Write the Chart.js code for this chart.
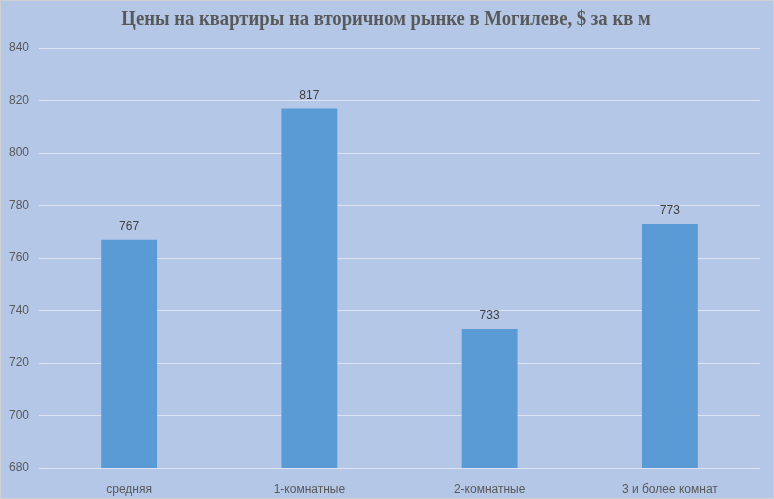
<!DOCTYPE html>
<html>
<head>
<meta charset="utf-8">
<script src="https://cdn.jsdelivr.net/npm/chart.js@4"></script>
<style>
  html, body { margin: 0; padding: 0; background: #ffffff; }
  #wrap { width: 772px; height: 497px; border: 1px solid #d0d0d0; background: #b4c7e7; }
</style>
</head>
<body>
<div id="wrap"><canvas id="chart" width="772" height="497"></canvas></div>
<script>
const categories = ['средняя', '1-комнатные', '2-комнатные', '3 и более комнат'];
const prices = [767, 817, 733, 773];
const titleText = 'Цены на квартиры на вторичном рынке в Могилеве, $ за кв м';

// draws the title and the value labels over the bars
const labelsPlugin = {
    id: 'labels',
    afterDatasetsDraw(chart) {
        const ctx = chart.ctx;
        ctx.save();
        ctx.fillStyle = '#404040';
        ctx.font = '12px "Liberation Sans", Arial, sans-serif';
        ctx.textAlign = 'center';
        ctx.textBaseline = 'bottom';
        chart.getDatasetMeta(0).data.forEach((bar, i) => {
            ctx.fillText(prices[i], bar.x, bar.y - 7);
        });
        ctx.fillStyle = '#595959';
        ctx.font = 'bold 21px "Liberation Serif", "Times New Roman", serif';
        ctx.textBaseline = 'middle';
        ctx.save();
        ctx.translate(385, 19);
        ctx.scale(0.89, 1);
        ctx.fillText(titleText, 0, 0);
        ctx.restore();
        ctx.restore();
    }
};

new Chart(document.getElementById('chart'), {
    type: 'bar',
    data: {
        labels: categories,
        datasets: [{
            data: prices,
            backgroundColor: '#5b9bd5',
            categoryPercentage: 1,
            barPercentage: 0.31
        }]
    },
    options: {
        responsive: false,
        animation: false,
        layout: { padding: { top: 47, right: 13, bottom: 0, left: 0 } },
        plugins: { legend: { display: false }, tooltip: { enabled: false } },
        scales: {
            x: {
                grid: { display: false },
                border: { display: false },
                ticks: { color: '#595959', font: { size: 12, family: '"Liberation Sans", Arial, sans-serif' }, padding: 6 },
                afterFit: s => { s.height = 30; }
            },
            y: {
                min: 680,
                max: 840,
                ticks: { stepSize: 20, color: '#595959', font: { size: 12, family: '"Liberation Sans", Arial, sans-serif' }, padding: 10 },
                grid: { color: '#dce4f3', lineWidth: 1, drawTicks: false },
                border: { display: false },
                afterFit: s => { s.width = 38; }
            }
        }
    },
    plugins: [labelsPlugin]
});
</script>
</body>
</html>
